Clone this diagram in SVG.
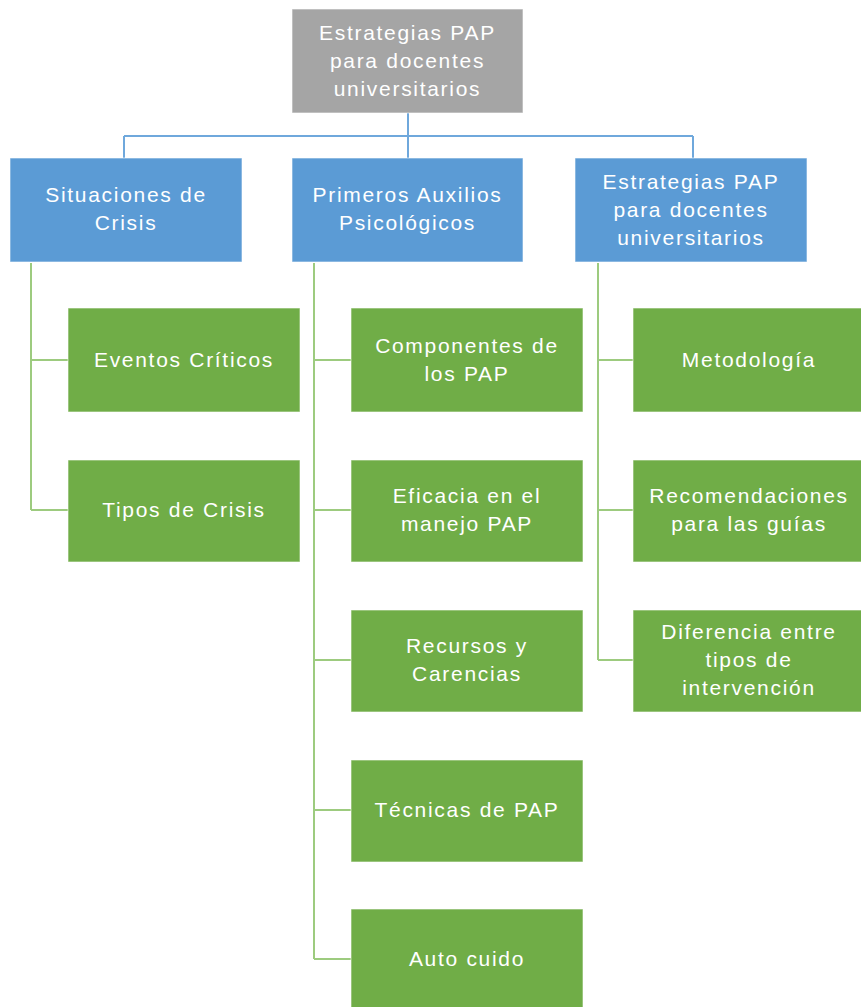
<svg xmlns="http://www.w3.org/2000/svg" width="861" height="1007" viewBox="0 0 861 1007">
<style>
.box{stroke:#ffffff;stroke-opacity:0.6;stroke-width:1}
.gray{fill:#a5a5a5}
.blue{fill:#5b9bd5}
.green{fill:#70ad47}
.t{font-family:"Liberation Sans",Arial,sans-serif;font-size:21px;fill:#ffffff;text-anchor:middle;letter-spacing:1.7px}
.cb{fill:none;stroke:#6fa8dc;stroke-width:2}
.cg{fill:none;stroke:#9dcb7f;stroke-width:2}
</style>
<rect width="861" height="1007" fill="#ffffff"/>
<g id="connectors">
<path class="cb" d="M408 113 V136 M124 136 H693 M124 136 V158 M408 136 V158 M693 136 V158"/>
<path class="cg" d="M31 263 V510 M31 360 H68 M31 510 H68"/>
<path class="cg" d="M314 263 V959 M314 360 H351 M314 510 H351 M314 660 H351 M314 810 H351 M314 959 H351"/>
<path class="cg" d="M598 263 V660 M598 360 H633 M598 510 H633 M598 660 H633"/>
</g>
<g id="root"><rect class="box gray" x="292" y="9" width="231" height="104"/>
<text class="t" x="407.5" y="40">Estrategias PAP</text><text class="t" x="407.5" y="68">para docentes</text><text class="t" x="407.5" y="96">universitarios</text></g>
<g id="situaciones"><rect class="box blue" x="10" y="158" width="232" height="104"/>
<text class="t" x="126" y="202">Situaciones de</text><text class="t" x="126" y="230">Crisis</text></g>
<g id="primeros"><rect class="box blue" x="292" y="158" width="231" height="104"/>
<text class="t" x="407.5" y="202">Primeros Auxilios</text><text class="t" x="407.5" y="230">Psicológicos</text></g>
<g id="estrategias"><rect class="box blue" x="575" y="158" width="232" height="104"/>
<text class="t" x="691" y="189">Estrategias PAP</text><text class="t" x="691" y="217">para docentes</text><text class="t" x="691" y="245">universitarios</text></g>
<g id="eventos"><rect class="box green" x="68" y="308" width="232" height="104"/>
<text class="t" x="184" y="367">Eventos Críticos</text></g>
<g id="tipos"><rect class="box green" x="68" y="460" width="232" height="102"/>
<text class="t" x="184" y="517">Tipos de Crisis</text></g>
<g id="componentes"><rect class="box green" x="351" y="308" width="232" height="104"/>
<text class="t" x="467" y="353">Componentes de</text><text class="t" x="467" y="381">los PAP</text></g>
<g id="eficacia"><rect class="box green" x="351" y="460" width="232" height="102"/>
<text class="t" x="467" y="503">Eficacia en el</text><text class="t" x="467" y="531">manejo PAP</text></g>
<g id="recursos"><rect class="box green" x="351" y="610" width="232" height="102"/>
<text class="t" x="467" y="653">Recursos y</text><text class="t" x="467" y="681">Carencias</text></g>
<g id="tecnicas"><rect class="box green" x="351" y="760" width="232" height="102"/>
<text class="t" x="467" y="817">Técnicas de PAP</text></g>
<g id="autocuido"><rect class="box green" x="351" y="909" width="232" height="104"/>
<text class="t" x="467" y="966">Auto cuido</text></g>
<g id="metodologia"><rect class="box green" x="633" y="308" width="232" height="104"/>
<text class="t" x="749" y="367">Metodología</text></g>
<g id="recomendaciones"><rect class="box green" x="633" y="460" width="232" height="102"/>
<text class="t" x="749" y="503">Recomendaciones</text><text class="t" x="749" y="531">para las guías</text></g>
<g id="diferencia"><rect class="box green" x="633" y="610" width="232" height="102"/>
<text class="t" x="749" y="639">Diferencia entre</text><text class="t" x="749" y="667">tipos de</text><text class="t" x="749" y="695">intervención</text></g>
</svg>
